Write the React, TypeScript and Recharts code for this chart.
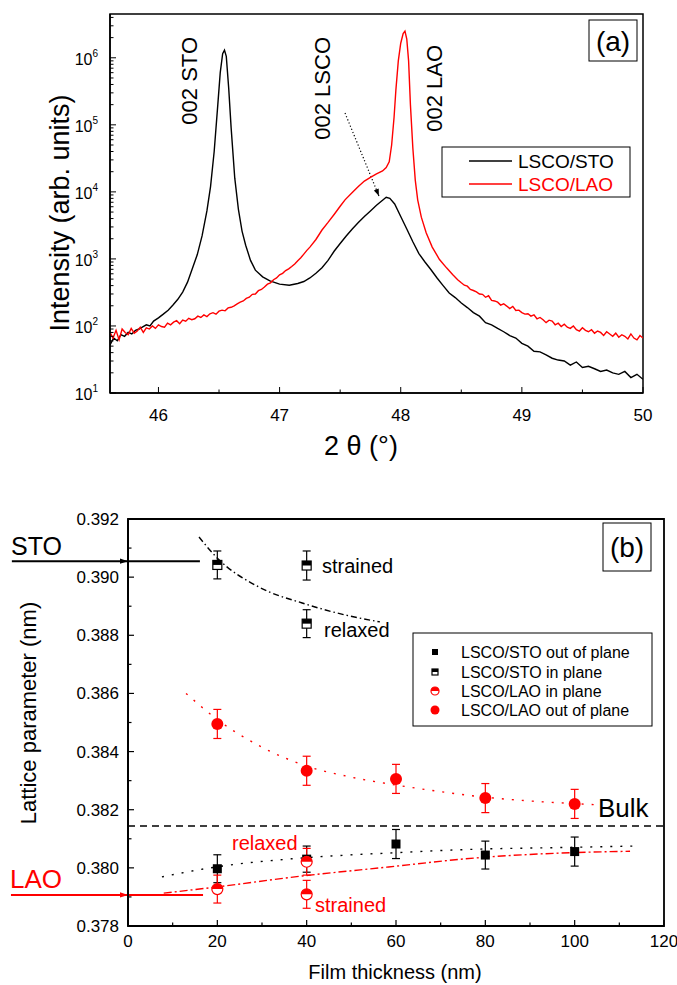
import React from "react";
import {
  LineChart,
  ComposedChart,
  Line,
  Scatter,
  XAxis,
  YAxis,
  ErrorBar,
  ReferenceLine,
  ReferenceArea,
} from "recharts";

const FONT = '"Liberation Sans", Arial, Helvetica, sans-serif';
const RED = "#ff0000";

// ---------- panel (a): XRD scans, [2theta, counts] ----------
const stoScan: [number, number][] = [
  [45.6, 52], [45.63, 66], [45.66, 60], [45.69, 74], [45.72, 70], [45.75, 80], [45.78, 76], [45.81, 86], [45.84, 90], [45.87, 97],
  [45.9, 104], [45.93, 100], [45.96, 118], [46.0, 132], [46.04, 150], [46.08, 172], [46.12, 205], [46.16, 250], [46.2, 320], [46.24, 450],
  [46.28, 720], [46.32, 1150], [46.36, 2200], [46.4, 5200], [46.43, 12000], [46.46, 40000], [46.49, 200000], [46.51, 600000], [46.53, 1150000], [46.545, 1300000],
  [46.56, 1050000], [46.58, 350000], [46.6, 90000], [46.63, 16000], [46.66, 5500], [46.69, 2600], [46.72, 1600], [46.76, 950], [46.8, 680], [46.86, 540],
  [46.92, 470], [47.0, 420], [47.08, 405], [47.15, 430], [47.2, 460], [47.25, 520], [47.3, 610], [47.35, 740], [47.4, 950], [47.45, 1300],
  [47.5, 1700], [47.55, 2200], [47.6, 2800], [47.65, 3500], [47.7, 4300], [47.75, 5200], [47.8, 6300], [47.85, 7500], [47.88, 8300], [47.91, 8000],
  [47.95, 6600], [48.0, 4300], [48.05, 2800], [48.1, 1800], [48.15, 1200], [48.2, 900], [48.25, 690], [48.3, 520], [48.35, 400], [48.4, 310],
  [48.45, 265], [48.5, 220], [48.55, 188], [48.6, 158], [48.65, 140], [48.7, 112], [48.75, 104], [48.8, 92], [48.85, 82], [48.9, 72],
  [48.95, 66], [49.0, 55], [49.05, 50], [49.1, 42], [49.15, 41], [49.2, 37], [49.25, 33], [49.3, 31], [49.35, 30], [49.4, 26],
  [49.45, 29], [49.5, 24], [49.55, 25], [49.6, 23], [49.65, 21], [49.7, 22], [49.75, 20], [49.8, 19], [49.85, 21], [49.9, 17],
  [49.95, 19], [50.0, 16],
];

const laoScan: [number, number][] = [
  [45.6, 80], [45.625, 66], [45.65, 86], [45.675, 62], [45.7, 90], [45.725, 80], [45.75, 74], [45.775, 92], [45.8, 78], [45.825, 84],
  [45.85, 96], [45.875, 80], [45.9, 94], [45.925, 90], [45.95, 100], [45.975, 92], [46.0, 104], [46.025, 98], [46.05, 96], [46.075, 110],
  [46.1, 104], [46.125, 114], [46.15, 120], [46.175, 108], [46.2, 122], [46.225, 118], [46.25, 130], [46.275, 124], [46.3, 128], [46.325, 140],
  [46.35, 134], [46.375, 146], [46.4, 138], [46.425, 152], [46.45, 158], [46.475, 150], [46.5, 166], [46.525, 172], [46.55, 168], [46.575, 186],
  [46.6, 190], [46.625, 200], [46.65, 214], [46.675, 226], [46.7, 236], [46.725, 258], [46.75, 268], [46.775, 296], [46.8, 300], [46.825, 336],
  [46.85, 350], [46.875, 380], [46.9, 420], [46.925, 440], [46.95, 490], [46.975, 520], [47.0, 580], [47.025, 610], [47.05, 670], [47.075, 710],
  [47.1, 770], [47.125, 840], [47.15, 940], [47.175, 1040], [47.2, 1180], [47.225, 1340], [47.25, 1500], [47.3, 1950], [47.35, 2700], [47.4, 3500],
  [47.45, 4600], [47.5, 6100], [47.54, 7600], [47.6, 9800], [47.65, 12000], [47.7, 14500], [47.75, 16500], [47.8, 18500], [47.85, 20500], [47.88, 23000],
  [47.905, 28000], [47.925, 50000], [47.945, 130000], [47.96, 330000], [47.98, 900000], [48.0, 1650000], [48.02, 2300000], [48.035, 2500000], [48.05, 1900000], [48.065, 900000],
  [48.08, 200000], [48.1, 45000], [48.12, 15000], [48.14, 7600], [48.17, 4200], [48.21, 2450], [48.26, 1500], [48.32, 980], [48.38, 730], [48.43, 580],
  [48.47, 490], [48.5, 440], [48.525, 405], [48.55, 392], [48.575, 350], [48.6, 338], [48.625, 322], [48.65, 300], [48.675, 296], [48.7, 268],
  [48.725, 282], [48.75, 240], [48.775, 236], [48.8, 226], [48.825, 205], [48.85, 214], [48.875, 198], [48.9, 182], [48.925, 196], [48.95, 170],
  [48.975, 172], [49.0, 158], [49.025, 150], [49.05, 152], [49.075, 140], [49.1, 146], [49.125, 128], [49.15, 134], [49.175, 124], [49.2, 112],
  [49.225, 122], [49.25, 118], [49.275, 104], [49.3, 110], [49.325, 98], [49.35, 106], [49.375, 96], [49.4, 92], [49.425, 100], [49.45, 88],
  [49.475, 84], [49.5, 94], [49.525, 86], [49.55, 82], [49.575, 88], [49.6, 78], [49.625, 84], [49.65, 80], [49.675, 72], [49.7, 82],
  [49.725, 76], [49.75, 70], [49.775, 78], [49.8, 68], [49.825, 74], [49.85, 70], [49.875, 64], [49.9, 76], [49.925, 66], [49.95, 62],
  [49.975, 72], [50.0, 66],
];

const thetaTicks = [46, 46.5, 47, 47.5, 48, 48.5, 49, 49.5, 50];
const decades = [10, 100, 1000, 10000, 100000, 1000000];
const minorSteps = [1, 2, 3, 4, 5, 6, 7, 8, 9];
const intensityMax = 4.5e6;
const seriesNamesA = ["LSCO/STO", "LSCO/LAO"];
// dotted arrow towards the LSCO film peak
const lscoArrow = [
  { x: 47.54, y: 150000 },
  { x: 47.82, y: 8700 },
];

// ---------- panel (b): lattice parameters vs thickness ----------
const stoOutX = [20, 40, 60, 80, 100];
const stoOutY = [0.37997, 0.3803, 0.38082, 0.38044, 0.38056];
const stoOutErr = [0.00048, 0.00045, 0.0005, 0.00048, 0.0005];

const stoInX = [20, 40, 40];
const stoInY = [0.39042, 0.3904, 0.3884];
const stoInErr = [0.00048, 0.0005, 0.00048];

const laoInX = [20, 40, 40];
const laoInY = [0.37927, 0.38021, 0.37909];
const laoInErr = [0.00048, 0.00046, 0.00048];

const laoOutX = [20, 40, 60, 80, 100];
const laoOutY = [0.38495, 0.38334, 0.38306, 0.3824, 0.3822];
const laoOutErr = [0.0005, 0.0005, 0.0005, 0.0005, 0.0005];

const stoInFitX = [15.9, 19.7, 29.3, 39, 48.6, 56.4];
const stoInFitY = [0.39138, 0.3907, 0.38966, 0.38911, 0.3887, 0.38846];
const laoOutFitX = [13, 20, 30, 40, 50, 60, 70, 80, 90, 100, 105];
const laoOutFitY = [0.386, 0.3851, 0.38415, 0.3835, 0.38312, 0.38285, 0.38262, 0.38243, 0.3823, 0.38221, 0.38217];
const stoOutFitX = [7.6, 19.7, 39, 58.3, 77.7, 97, 113.3];
const stoOutFitY = [0.37969, 0.38003, 0.38034, 0.38051, 0.38064, 0.3807, 0.38075];
const laoInFitX = [8, 19.7, 39, 58.3, 77.7, 97, 112.4];
const laoInFitY = [0.37913, 0.37934, 0.37972, 0.38003, 0.38034, 0.38051, 0.38057];

const bulkLattice = 0.38144;
const stoSubstrate = 0.39055;
const laoSubstrate = 0.37907;

const thicknessTicks = [0, 10, 20, 30, 40, 50, 60, 70, 80, 90, 100, 110, 120];
const latticeTicks = [0.378, 0.379, 0.38, 0.381, 0.382, 0.383, 0.384, 0.385, 0.386, 0.387, 0.388, 0.389, 0.39, 0.391, 0.392];
const legendB = ["LSCO/STO out of plane", "LSCO/STO in plane", "LSCO/LAO in plane", "LSCO/LAO out of plane"];

const toPoints = (xs: number[], ys: number[], es?: number[]) =>
  xs.map((x, i) => ({ x, y: ys[i], e: es ? es[i] : 0 }));

const stoData = stoScan.map(([t, c]) => ({ t, c }));
const laoData = laoScan.map(([t, c]) => ({ t, c }));
const intensityTicks: number[] = [];
decades.forEach((d) => {
  minorSteps.forEach((m) => {
    if (d * m <= intensityMax) intensityTicks.push(d * m);
  });
});

// ---------- ticks ----------
function ThetaTick(props: any) {
  const { x, y, payload } = props;
  const v = payload.value as number;
  const major = Math.abs(v - Math.round(v)) < 1e-6;
  return (
    <g>
      <line x1={x} x2={x} y1={y} y2={y - (major ? 6 : 3.5)} stroke="#000" strokeWidth={1} />
      {major && (
        <text x={x} y={y + 28} textAnchor="middle" fontSize={17} fontFamily={FONT} fill="#000">
          {v}
        </text>
      )}
    </g>
  );
}

function LogTick(props: any) {
  const { x, y, payload } = props;
  const v = payload.value as number;
  const lg = Math.log10(v);
  const exp = Math.round(lg);
  const major = Math.abs(lg - exp) < 1e-6;
  return (
    <g>
      <line x1={x} x2={x + (major ? 6 : 3.5)} y1={y} y2={y} stroke="#000" strokeWidth={1} />
      {major && (
        <text x={x - 12} y={y + 7} textAnchor="end" fontSize={16} fontFamily={FONT} fill="#000">
          10
          <tspan dy={-8} fontSize={10}>
            {exp}
          </tspan>
        </text>
      )}
    </g>
  );
}

function ThicknessTick(props: any) {
  const { x, y, payload } = props;
  const v = payload.value as number;
  const major = v % 20 === 0;
  return (
    <g>
      <line x1={x} x2={x} y1={y} y2={y - (major ? 6 : 3.5)} stroke="#000" strokeWidth={1.2} />
      {major && (
        <text x={x} y={y + 21} textAnchor="middle" fontSize={17} fontFamily={FONT} fill="#000">
          {v}
        </text>
      )}
    </g>
  );
}

function LatticeTick(props: any) {
  const { x, y, payload } = props;
  const v = payload.value as number;
  const major = Math.round(v * 1000) % 2 === 0;
  return (
    <g>
      <line x1={x} x2={x + (major ? 6 : 3.5)} y1={y} y2={y} stroke="#000" strokeWidth={1.2} />
      {major && (
        <text x={x - 9} y={y + 6} textAnchor="end" fontSize={17} fontFamily={FONT} fill="#000">
          {v.toFixed(3)}
        </text>
      )}
    </g>
  );
}

// ---------- markers ----------
function FilledSquare({ cx, cy, s = 9 }: any) {
  return <rect x={cx - s / 2} y={cy - s / 2} width={s} height={s} fill="#000" />;
}

function HalfSquare({ cx, cy, s = 9 }: any) {
  return (
    <g>
      <rect x={cx - s / 2} y={cy - s / 2} width={s} height={s} fill="#fff" stroke="#000" strokeWidth={1.2} />
      <rect x={cx - s / 2} y={cy - s / 2} width={s} height={s / 2} fill="#000" />
    </g>
  );
}

function HalfCircle({ cx, cy, r = 5.5 }: any) {
  return (
    <g>
      <circle cx={cx} cy={cy} r={r} fill="#fff" stroke={RED} strokeWidth={1.2} />
      <path d={`M${cx - r},${cy} A${r},${r} 0 0 1 ${cx + r},${cy} Z`} fill={RED} />
    </g>
  );
}

function FilledCircle({ cx, cy, r = 6 }: any) {
  return <circle cx={cx} cy={cy} r={r} fill={RED} />;
}

function arrowHead(x1: number, y1: number, x2: number, y2: number, len: number, w: number) {
  const a = Math.atan2(y2 - y1, x2 - x1);
  const bx = x2 - len * Math.cos(a);
  const by = y2 - len * Math.sin(a);
  const px = -Math.sin(a) * w;
  const py = Math.cos(a) * w;
  return `${x2},${y2} ${bx + px},${by + py} ${bx - px},${by - py}`;
}

function DottedArrow(props: any) {
  const { x1, y1, x2, y2 } = props;
  return (
    <g>
      <line x1={x1} y1={y1} x2={x2} y2={y2} stroke="#000" strokeWidth={1.2} strokeDasharray="1.2 2.2" />
      <polygon points={arrowHead(x1, y1, x2, y2, 7, 2.6)} fill="#000" />
    </g>
  );
}

function SolidArrow(color: string) {
  return (props: any) => {
    const { x1, y1, x2, y2 } = props;
    return (
      <g>
        <line x1={x1} y1={y1} x2={x2} y2={y2} stroke={color} strokeWidth={2} />
        <polygon points={arrowHead(x1, y1, x2, y2, 8, 2.6)} fill={color} />
      </g>
    );
  };
}

function PanelA() {
  return (
    <LineChart width={677} height={470} margin={{ top: 14, right: 34, bottom: 47, left: 60 }}>
      <XAxis
        dataKey="t"
        type="number"
        domain={[45.6, 50]}
        ticks={thetaTicks}
        interval={0}
        allowDataOverflow
        tickLine={false}
        tickSize={0}
        tickMargin={0}
        tick={(p: any) => <ThetaTick {...p} />}
        axisLine={{ stroke: "#000", strokeWidth: 1.5 }}
        height={30}
      />
      <YAxis
        type="number"
        scale="log"
        domain={[10, intensityMax]}
        ticks={intensityTicks}
        interval={0}
        allowDataOverflow
        tickLine={false}
        tickSize={0}
        tickMargin={0}
        tick={(p: any) => <LogTick {...p} />}
        axisLine={{ stroke: "#000", strokeWidth: 1.5 }}
        width={50}
      />
      <ReferenceArea
        x1={45.6}
        x2={50}
        y1={10}
        y2={intensityMax}
        fill="none"
        fillOpacity={0}
        stroke="#000"
        strokeWidth={1.5}
        ifOverflow="visible"
      />
      <ReferenceLine segment={lscoArrow} ifOverflow="visible" shape={(p: any) => <DottedArrow {...p} />} />
      <Line
        data={stoData}
        dataKey="c"
        name={seriesNamesA[0]}
        type="linear"
        stroke="#000"
        strokeWidth={1.4}
        dot={false}
        isAnimationActive={false}
      />
      <Line
        data={laoData}
        dataKey="c"
        name={seriesNamesA[1]}
        type="linear"
        stroke={RED}
        strokeWidth={1.4}
        dot={false}
        isAnimationActive={false}
      />
    </LineChart>
  );
}

function PanelB() {
  const fitLine = (xs: number[], ys: number[], color: string, dash: string, key: string) => (
    <Line
      key={key}
      data={toPoints(xs, ys)}
      dataKey="y"
      type="monotone"
      stroke={color}
      strokeWidth={1.4}
      strokeDasharray={dash}
      dot={false}
      isAnimationActive={false}
      legendType="none"
    />
  );
  return (
    <ComposedChart width={677} height={515} margin={{ top: 49, right: 13, bottom: 29, left: 78 }}>
      <XAxis
        dataKey="x"
        type="number"
        domain={[0, 120]}
        ticks={thicknessTicks}
        interval={0}
        allowDataOverflow
        tickLine={false}
        tickSize={0}
        tickMargin={0}
        tick={(p: any) => <ThicknessTick {...p} />}
        axisLine={{ stroke: "#000", strokeWidth: 2 }}
        height={30}
      />
      <YAxis
        dataKey="y"
        type="number"
        domain={[0.378, 0.392]}
        ticks={latticeTicks}
        interval={0}
        allowDataOverflow
        tickLine={false}
        tickSize={0}
        tickMargin={0}
        tick={(p: any) => <LatticeTick {...p} />}
        axisLine={{ stroke: "#000", strokeWidth: 2 }}
        width={50}
      />
      <ReferenceArea
        x1={0}
        x2={120}
        y1={0.378}
        y2={0.392}
        fill="none"
        fillOpacity={0}
        stroke="#000"
        strokeWidth={1.8}
        ifOverflow="visible"
      />
      <ReferenceLine y={bulkLattice} stroke="#000" strokeWidth={1.3} strokeDasharray="7 5" />
      <ReferenceLine
        segment={[{ x: -26, y: stoSubstrate }, { x: 0, y: stoSubstrate }]}
        ifOverflow="visible"
        shape={SolidArrow("#000")}
      />
      <ReferenceLine
        segment={[{ x: 0, y: stoSubstrate }, { x: 16.1, y: stoSubstrate }]}
        ifOverflow="visible"
        stroke="#000"
        strokeWidth={2}
      />
      <ReferenceLine
        segment={[{ x: -26.2, y: laoSubstrate }, { x: 0, y: laoSubstrate }]}
        ifOverflow="visible"
        shape={SolidArrow(RED)}
      />
      <ReferenceLine
        segment={[{ x: 0, y: laoSubstrate }, { x: 16.8, y: laoSubstrate }]}
        ifOverflow="visible"
        stroke={RED}
        strokeWidth={2}
      />
      {fitLine(stoInFitX, stoInFitY, "#000", "6 3 1.5 3", "f1")}
      {fitLine(laoOutFitX, laoOutFitY, RED, "2 8", "f2")}
      {fitLine(stoOutFitX, stoOutFitY, "#000", "2 8", "f3")}
      {fitLine(laoInFitX, laoInFitY, RED, "8 3 2 3", "f4")}
      <Scatter
        data={toPoints(stoOutX, stoOutY, stoOutErr)}
        dataKey="y"
        isAnimationActive={false}
        shape={(p: any) => <FilledSquare cx={p.cx} cy={p.cy} />}
      >
        <ErrorBar dataKey="e" direction="y" width={4} stroke="#000" strokeWidth={1.2} />
      </Scatter>
      <Scatter
        data={toPoints(stoInX, stoInY, stoInErr)}
        dataKey="y"
        isAnimationActive={false}
        shape={(p: any) => <HalfSquare cx={p.cx} cy={p.cy} />}
      >
        <ErrorBar dataKey="e" direction="y" width={4} stroke="#000" strokeWidth={1.2} />
      </Scatter>
      <Scatter
        data={toPoints(laoInX, laoInY, laoInErr)}
        dataKey="y"
        isAnimationActive={false}
        shape={(p: any) => <HalfCircle cx={p.cx} cy={p.cy} />}
      >
        <ErrorBar dataKey="e" direction="y" width={4} stroke={RED} strokeWidth={1.2} />
      </Scatter>
      <Scatter
        data={toPoints(laoOutX, laoOutY, laoOutErr)}
        dataKey="y"
        isAnimationActive={false}
        shape={(p: any) => <FilledCircle cx={p.cx} cy={p.cy} />}
      >
        <ErrorBar dataKey="e" direction="y" width={4} stroke={RED} strokeWidth={1.2} />
      </Scatter>
    </ComposedChart>
  );
}

function Overlay() {
  const t = { fontFamily: FONT, fill: "#000" } as const;
  const legendRowsB = [652, 672, 691, 710];
  return (
    <svg
      width={677}
      height={985}
      style={{ position: "absolute", left: 0, top: 0, pointerEvents: "none" }}
    >
      {/* panel (a) */}
      <text {...t} fontSize={27} textAnchor="middle" transform="translate(69,213) rotate(-90)">
        Intensity (arb. units)
      </text>
      <text {...t} fontSize={27} textAnchor="middle" x={361} y={455}>
        2 θ (°)
      </text>
      <text {...t} fontSize={22} textAnchor="end" transform="translate(197,37) rotate(-90)">
        002 STO
      </text>
      <text {...t} fontSize={22} textAnchor="end" transform="translate(330,37) rotate(-90)">
        002 LSCO
      </text>
      <text {...t} fontSize={22} textAnchor="end" transform="translate(442,45) rotate(-90)">
        002 LAO
      </text>
      <rect x={589} y={20} width={48} height={41} fill="#fff" stroke="#000" strokeWidth={1} />
      <text {...t} fontSize={28} textAnchor="middle" x={613} y={51}>
        (a)
      </text>
      <rect x={442} y={147} width={188} height={50} fill="#fff" stroke="#000" strokeWidth={1} />
      <line x1={469} x2={512} y1={161} y2={161} stroke="#000" strokeWidth={1.4} />
      <text {...t} fontSize={19} x={518} y={168}>
        {seriesNamesA[0]}
      </text>
      <line x1={469} x2={512} y1={184} y2={184} stroke={RED} strokeWidth={1.4} />
      <text fontFamily={FONT} fill={RED} fontSize={19} x={518} y={191}>
        {seriesNamesA[1]}
      </text>

      {/* panel (b) */}
      <text {...t} fontSize={22} textAnchor="middle" transform="translate(36,713) rotate(-90)">
        Lattice parameter (nm)
      </text>
      <text {...t} fontSize={20} textAnchor="middle" x={395} y={979}>
        Film thickness (nm)
      </text>
      <text {...t} fontSize={25} x={11} y={555}>
        STO
      </text>
      <text fontFamily={FONT} fill={RED} fontSize={26} x={10} y={888}>
        LAO
      </text>
      <text {...t} fontSize={20} x={322} y={573}>
        strained
      </text>
      <text {...t} fontSize={20} x={324} y={637}>
        relaxed
      </text>
      <text fontFamily={FONT} fill={RED} fontSize={20} x={232} y={850}>
        relaxed
      </text>
      <text fontFamily={FONT} fill={RED} fontSize={20} x={315} y={912}>
        strained
      </text>
      <text {...t} fontSize={26} x={598} y={817}>
        Bulk
      </text>
      <rect x={603} y={523} width={48} height={48} fill="#fff" stroke="#000" strokeWidth={1} />
      <text {...t} fontSize={28} textAnchor="middle" x={627} y={557}>
        (b)
      </text>
      <rect x={413} y={633} width={239} height={93} fill="#fff" stroke="#000" strokeWidth={1} />
      <FilledSquare cx={435} cy={legendRowsB[0]} s={6} />
      <HalfSquare cx={435} cy={legendRowsB[1]} s={6} />
      <HalfCircle cx={435} cy={legendRowsB[2]} r={4} />
      <FilledCircle cx={435} cy={legendRowsB[3]} r={4.5} />
      {legendB.map((label, i) => (
        <text key={label} {...t} fontSize={16} x={461} y={legendRowsB[i] + 6}>
          {label}
        </text>
      ))}
    </svg>
  );
}

export default function App() {
  return (
    <div
      style={{
        position: "absolute",
        left: 0,
        top: 0,
        width: 677,
        height: 985,
        background: "#fff",
        fontFamily: FONT,
      }}
    >
      <div style={{ position: "absolute", left: 0, top: 0 }}>
        <PanelA />
      </div>
      <div style={{ position: "absolute", left: 0, top: 470 }}>
        <PanelB />
      </div>
      <Overlay />
    </div>
  );
}
